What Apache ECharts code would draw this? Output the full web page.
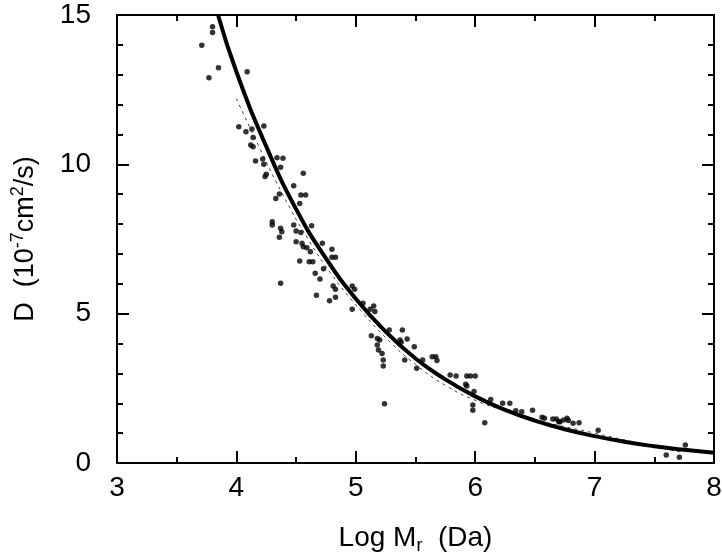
<!DOCTYPE html>
<html>
<head>
<meta charset="utf-8">
<script src="https://cdn.jsdelivr.net/npm/echarts@6/dist/echarts.min.js"></script>
<style>
  html, body { margin: 0; padding: 0; background: #fff; }
  #chart { width: 722px; height: 553px; }
</style>
</head>
<body>
<div id="chart"></div>
<script>
// measured points (Log Mr, D in 1e-7 cm2/s)
const logM = [
  3.80, 3.80, 3.71, 3.85, 3.77, 4.09, 4.02, 4.08, 4.13, 4.14, 4.23,
  4.12, 4.14, 4.16, 4.22, 4.23, 4.34, 4.39, 4.25, 4.24, 4.37, 4.56, 4.48,
  4.36, 4.33, 4.54, 4.58, 4.53, 4.30, 4.30, 4.37, 4.38, 4.48, 4.50, 4.63,
  4.36, 4.54, 4.50, 4.55, 4.56, 4.59, 4.62, 4.72, 4.80, 4.80, 4.83, 4.53,
  4.61, 4.64, 4.66, 4.70, 4.73, 4.37, 4.81, 4.83, 4.97, 4.99, 4.67, 4.83,
  4.78, 4.97, 5.15, 5.16, 5.12,
  5.06, 5.13, 5.18, 5.20, 5.18, 5.19, 5.22, 5.23, 5.23, 5.28, 5.39, 5.37,
  5.43, 5.38, 5.49, 5.41, 5.51, 5.56, 5.64, 5.67, 5.68, 5.79, 5.84, 5.24,
  5.93, 5.96, 6.00, 5.92, 5.93, 5.99, 5.98, 5.98, 6.13, 6.23, 6.29, 6.08,
  6.48, 6.56, 6.58, 6.65, 6.68, 6.70, 6.39, 6.34,
  6.71, 6.74, 6.77, 6.78, 6.82, 6.87, 7.03, 7.76, 7.71, 7.60
];
const diffD = [
  14.61, 14.41, 13.99, 13.23, 12.90, 13.10, 11.26, 11.09, 11.18, 10.90, 11.28,
  10.65, 10.59, 10.11, 10.18, 10.00, 10.22, 10.20, 9.67, 9.59, 9.90, 9.70, 9.28,
  9.01, 8.86, 8.97, 8.97, 8.69, 8.08, 7.97, 7.86, 7.74, 7.97, 7.77, 7.94,
  7.56, 7.72, 7.41, 7.36, 7.24, 7.21, 7.07, 7.36, 7.16, 6.89, 6.89, 6.76,
  6.74, 6.74, 6.35, 6.16, 6.50, 6.02, 5.93, 5.82, 5.93, 5.82, 5.62, 5.55,
  5.43, 5.15, 5.26, 5.07, 5.15,
  5.35, 4.26, 4.17, 4.12, 3.95, 3.78, 3.67, 3.45, 3.25, 4.45, 4.45, 4.12,
  4.15, 4.04, 3.89, 3.45, 3.17, 3.45, 3.56, 3.56, 3.43, 2.95, 2.91, 1.98,
  2.91, 2.91, 2.91, 2.64, 2.58, 2.39, 1.94, 1.77, 2.13, 2.00, 2.00, 1.35,
  1.77, 1.53, 1.50, 1.47, 1.47, 1.38, 1.72, 1.75,
  1.38, 1.44, 1.50, 1.42, 1.33, 1.35, 1.10, 0.60, 0.19, 0.27
];

// thick fitted curve
const curveX = [3.846, 4.0, 4.25, 4.5, 4.75, 5.0, 5.25, 5.5, 5.75, 6.0, 6.25, 6.5, 6.75, 7.0, 7.25, 7.5, 7.75, 8.0];
const curveD = [15.0, 13.1, 10.6, 8.5, 6.85, 5.5, 4.4, 3.5, 2.8, 2.23, 1.78, 1.42, 1.13, 0.9, 0.71, 0.56, 0.44, 0.34];

// thin dashed trace through the data
const traceX = [4.0, 4.2, 4.4, 4.6, 4.8, 5.0, 5.25, 5.5, 5.75, 6.0, 6.25, 6.5, 7.0, 7.5, 7.75];
const traceD = [12.2, 10.5, 8.9, 7.5, 6.3, 5.3, 4.2, 3.3, 2.6, 2.1, 1.75, 1.45, 1.0, 0.55, 0.35];

const xTicks = [3, 4, 5, 6, 7, 8];
const yTicks = [0, 5, 10, 15];

const font = '"Liberation Sans", Arial, sans-serif';
const axisLine = { show: true, onZero: false, lineStyle: { color: '#000', width: 2 } };
const tick = { show: true, inside: true, length: 12, lineStyle: { color: '#000', width: 2 } };
const minor = (n) => ({ show: true, splitNumber: n, length: 6, lineStyle: { color: '#000', width: 2 } });

const pairs = (xs, ys) => xs.map((x, i) => [x, ys[i]]);

const chart = echarts.init(document.getElementById('chart'));
chart.setOption({
  animation: false,
  backgroundColor: '#fff',
  grid: { left: 117, right: 8, top: 15, bottom: 90, containLabel: false, outerBoundsMode: 'none' },
  xAxis: [
    {
      type: 'value', min: xTicks[0], max: xTicks[xTicks.length - 1], interval: 1,
      position: 'bottom',
      axisLine: axisLine, axisTick: tick, minorTick: minor(2),
      splitLine: { show: false },
      axisLabel: { color: '#000', fontSize: 28, fontFamily: font, margin: 11 },
      name: 'Log M{sub|r}  (Da)', nameLocation: 'middle', nameGap: 58,
      nameTextStyle: {
        color: '#000', fontSize: 28, fontFamily: font,
        rich: { sub: { fontSize: 18, fontFamily: font, color: '#000', padding: [16, 0, 0, 0] } }
      }
    },
    {
      type: 'value', min: 3, max: 8, interval: 1, position: 'top',
      axisLine: axisLine, axisTick: tick, minorTick: minor(2),
      splitLine: { show: false }, axisLabel: { show: false }
    }
  ],
  yAxis: [
    {
      type: 'value', min: yTicks[0], max: yTicks[yTicks.length - 1], interval: 5,
      position: 'left',
      axisLine: axisLine, axisTick: tick, minorTick: minor(5),
      splitLine: { show: false },
      axisLabel: { color: '#000', fontSize: 28, fontFamily: font, margin: 26 },
      name: 'D  (10{sup|-7}cm{sup|2}/s)', nameLocation: 'middle', nameGap: 74, nameRotate: 90,
      nameTextStyle: {
        color: '#000', fontSize: 27, fontFamily: font,
        rich: { sup: { fontSize: 18, fontFamily: font, color: '#000', padding: [0, 0, 16, 0] } }
      }
    },
    {
      type: 'value', min: 0, max: 15, interval: 5, position: 'right',
      axisLine: axisLine, axisTick: tick, minorTick: minor(5),
      splitLine: { show: false }, axisLabel: { show: false }
    }
  ],
  series: [
    {
      type: 'line', data: pairs(traceX, traceD), smooth: true, showSymbol: false,
      lineStyle: { color: '#444', width: 1, type: [3, 4] }, z: 1
    },
    {
      type: 'scatter', data: pairs(logM, diffD), symbolSize: 5.5,
      itemStyle: { color: '#000' }, z: 2
    },
    {
      type: 'line', data: pairs(curveX, curveD), smooth: true, showSymbol: false,
      lineStyle: { color: '#000', width: 4 }, z: 3
    }
  ]
});
</script>
</body>
</html>
